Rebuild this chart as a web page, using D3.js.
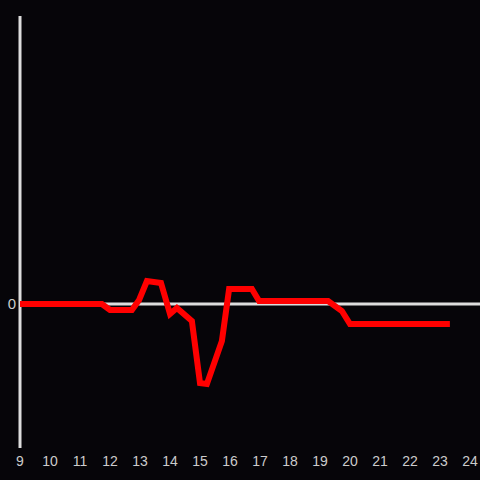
<!DOCTYPE html>
<html>
<head>
<meta charset="UTF-8">
<script src="https://d3js.org/d3.v7.min.js"></script>
<style>
  html, body { margin: 0; padding: 0; background: #060509; }
  svg { display: block; }
</style>
</head>
<body>
<svg width="480" height="480"></svg>
<script>
// hour of day and signed value (arbitrary units)
var hours  = [9, 11.73, 12.0, 12.73, 12.97, 13.23, 13.7, 14.0, 14.23, 14.73, 15.0, 15.23, 15.73, 15.97, 16.73, 16.97, 19.27, 19.73, 20.0, 23.33];
var values = [0, 0, -0.6, -0.6, 0.4, 2.3, 2.1, -1.0, -0.4, -1.7, -7.9, -8.0, -3.7, 1.5, 1.5, 0.3, 0.3, -0.7, -2.0, -2.0];
var xTicks = [9, 10, 11, 12, 13, 14, 15, 16, 17, 18, 19, 20, 21, 22, 23, 24];
var yTicks = [0];

var svg = d3.select("svg");

var x = d3.scaleLinear().domain([9, 24]).range([20, 470]);
var y = d3.scaleLinear().domain([-14.4, 28.8]).range([448, 16]);

var data = hours.map(function(h, i) { return { h: h, v: values[i] }; });

// vertical axis line
svg.append("line")
  .attr("x1", x(9)).attr("x2", x(9))
  .attr("y1", y(28.8)).attr("y2", y(-14.4))
  .style("stroke", "#dddddd").style("stroke-width", 3);

// zero line
svg.append("line")
  .attr("x1", x(9)).attr("x2", 480)
  .attr("y1", y(0)).attr("y2", y(0))
  .style("stroke", "#dddddd").style("stroke-width", 3);

// x tick labels
svg.append("g").selectAll("text").data(xTicks)
  .enter().append("text")
  .attr("x", function(d) { return x(d); })
  .attr("y", 465.5)
  .attr("text-anchor", "middle")
  .style("font-family", "Liberation Sans, Arial, sans-serif")
  .style("font-size", "14px")
  .style("fill", "#cccccc")
  .text(function(d) { return d; });

// y tick label
svg.append("g").selectAll("text").data(yTicks)
  .enter().append("text")
  .attr("x", 16)
  .attr("y", function(d) { return y(d); })
  .attr("dy", "0.36em")
  .attr("text-anchor", "end")
  .style("font-family", "Liberation Sans, Arial, sans-serif")
  .style("font-size", "15px")
  .style("fill", "#cccccc")
  .text(function(d) { return d; });

var line = d3.line()
  .x(function(d) { return x(d.h); })
  .y(function(d) { return y(d.v); });

svg.append("path")
  .datum(data)
  .attr("d", line)
  .style("fill", "none")
  .style("stroke", "#ff0000")
  .style("stroke-width", 6);
</script>
</body>
</html>
